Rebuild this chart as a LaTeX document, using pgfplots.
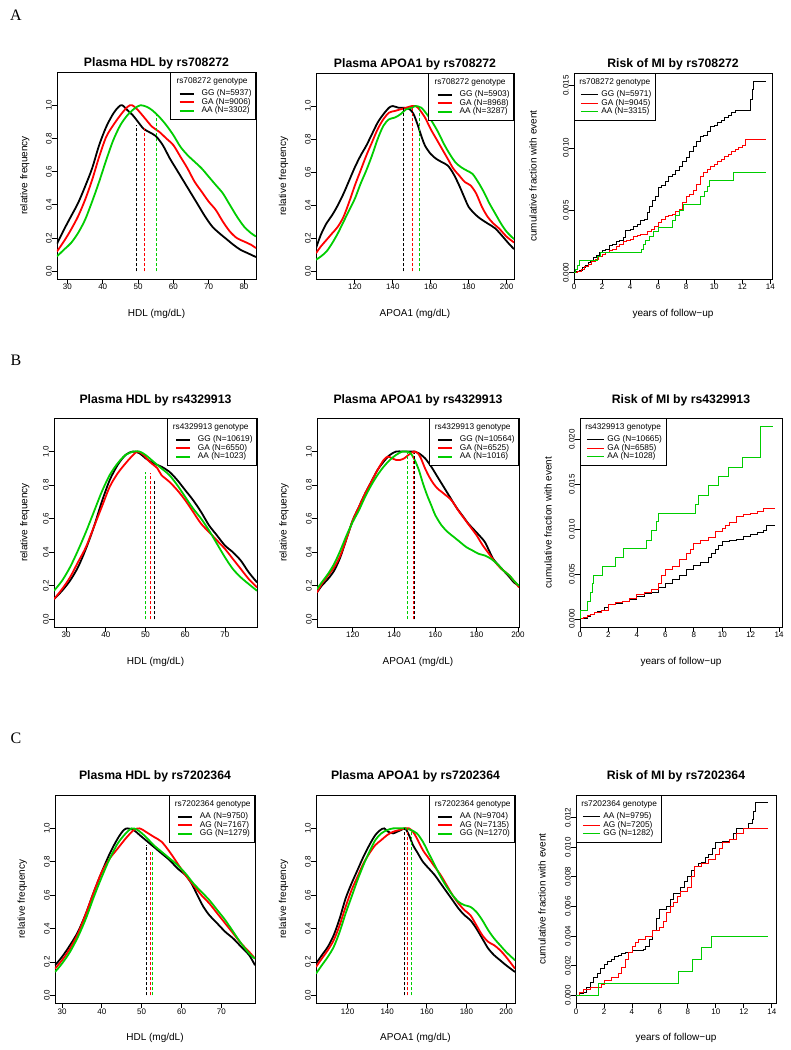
\documentclass[border=0pt]{standalone}
\usepackage{fontspec}
\setmainfont{Liberation Sans}
\newfontfamily\panelfont{Liberation Serif}
\usepackage{pgfplots}
\pgfplotsset{compat=1.18}

\definecolor{rgreen}{RGB}{0,205,0}

\pgfplotsset{
  rbase/.style={
    scale only axis, anchor=south west, clip=true,
    axis line style={line width=0.8pt},
    tick align=outside, xtick pos=left, ytick pos=left,
    major tick length=5pt,
    every tick/.style={black, line width=0.8pt},
    tick label style={font=\fontsize{8}{9}\selectfont},
    /pgf/number format/assume math mode=true,
    xticklabel style={anchor=north, inner sep=0pt, text height=5.8pt, text depth=0pt},
    yticklabel style={rotate=90, anchor=south, inner sep=0pt},
    scaled ticks=false,
    label style={font=\fontsize{10.4}{12}\selectfont},
    every axis x label/.style={at={(axis description cs:0.5,0)}, yshift=-37.5pt, anchor=base},
  },
  tstyle/.style={every axis title/.style={at={(axis description cs:0.5,1)}, yshift=#1, anchor=base,
      font=\bfseries\fontsize{12.25}{14}\selectfont}},
  ylab/.style={every axis y label/.style={at={(axis description cs:0,0.5)}, xshift=-#1, rotate=90, anchor=base}},
  dens/.style={rbase, ymin=-0.046, ymax=1.2, ytick={0,0.2,0.4,0.6,0.8,1},
    yticklabel style={/pgf/number format/fixed, /pgf/number format/fixed zerofill, /pgf/number format/precision=1},
    ylabel={relative frequency},
    legend cell align=left,
    legend style={at={(1,1)}, anchor=north east, draw=black, line width=0.8pt, fill=white,
      inner xsep=4pt, inner ysep=5.5pt, row sep=1pt, column sep=7pt,
      font=\fontsize{8.3}{9}\selectfont, nodes={inner sep=0pt, text height=6pt, text depth=1.5pt}},
    legend image code/.code={\path (0pt,0pt); \draw[##1] (4pt,0pt) -- (18pt,0pt);}},
  mi/.style={rbase, xmin=0, xtick={0,2,...,14}, xlabel={years of follow−up},
    yticklabel style={/pgf/number format/fixed, /pgf/number format/fixed zerofill, /pgf/number format/precision=3},
    ylabel={cumulative fraction with event},
    legend cell align=left,
    legend style={at={(0,1)}, anchor=north west, draw=black, line width=0.8pt, fill=white,
      inner xsep=4pt, inner ysep=5.5pt, row sep=1pt, column sep=3pt,
      font=\fontsize{8.3}{9}\selectfont, nodes={inner sep=0pt, text height=6pt, text depth=1.5pt}},
    legend image code/.code={\path (0pt,0pt); \draw[##1] (2pt,0pt) -- (19pt,0pt);}},
  dk/.style={black, line width=1.8pt, smooth},
  dr/.style={red, line width=1.8pt, smooth},
  dg/.style={rgreen, line width=1.8pt, smooth},
  sk/.style={black, line width=0.9pt, const plot mark left},
  sr/.style={red, line width=0.9pt, const plot mark left},
  sg/.style={rgreen, line width=0.9pt, const plot mark left},
  med/.style={line width=1pt, dash pattern=on 3pt off 2pt, forget plot},
}

\begin{document}
\begin{tikzpicture}
\useasboundingbox (0,0) rectangle (791pt,1050pt);

\node[anchor=base west, font=\panelfont\fontsize{16}{18}\selectfont] at (6.5pt,1029.3pt) {A};
\node[anchor=base west, font=\panelfont\fontsize{16}{18}\selectfont] at (7pt,684pt) {B};
\node[anchor=base west, font=\panelfont\fontsize{16}{18}\selectfont] at (7pt,306.7pt) {C};

% ---------------- row A ----------------
\begin{axis}[dens, tstyle=5.7pt, ylab=29.5pt, at={(57pt,771pt)}, width=199pt, height=207pt,
  xmin=27.06, xmax=83.4, xtick={30,40,...,80},
  title={Plasma HDL by rs708272}, xlabel={HDL (mg/dL)}]
\addlegendimage{empty legend}\addlegendentry[text depth=5pt]{\hspace*{-25pt}rs708272 genotype}
\addplot[dk] coordinates {(27.06,0.166)(29,0.25)(31,0.33)(33,0.41)(35,0.51)(37,0.62)(39,0.76)(41,0.87)(43,0.95)(44.5,0.99)(45.5,1.0)(47,0.97)(48.5,0.94)(50,0.9)(51.5,0.86)(53,0.84)(55,0.815)(57,0.76)(59,0.68)(61,0.61)(63,0.54)(65,0.47)(67,0.4)(69,0.33)(71,0.27)(73,0.23)(75,0.195)(77,0.16)(79,0.13)(81,0.11)(83.4,0.086)};
\addlegendentry{GG (N=5937)}
\addplot[dr] coordinates {(27.06,0.12)(29,0.18)(31,0.25)(33,0.33)(35,0.43)(37,0.55)(39,0.69)(41,0.81)(43,0.88)(45,0.94)(47,0.99)(48.3,1.0)(50,0.97)(52,0.92)(54,0.87)(56,0.84)(58,0.8)(60,0.76)(62,0.69)(64,0.62)(66,0.54)(68,0.48)(70,0.42)(72,0.37)(74,0.3)(76,0.24)(78,0.2)(80,0.18)(82,0.16)(83.4,0.14)};
\addlegendentry{GA (N=9006)}
\addplot[dg] coordinates {(27.06,0.09)(29,0.13)(31,0.17)(33,0.23)(35,0.31)(37,0.42)(39,0.54)(41,0.67)(43,0.79)(45,0.88)(47,0.94)(49,0.98)(50.7,1.0)(52.5,0.99)(54,0.97)(56,0.93)(58,0.88)(60,0.82)(62,0.75)(64,0.7)(66,0.66)(68,0.62)(70,0.57)(72,0.52)(74,0.47)(76,0.4)(78,0.33)(80,0.27)(82,0.23)(83.4,0.21)};
\addlegendentry{AA (N=3302)}
\addplot[med, black] coordinates {(49.6,0)(49.6,0.88)};
\addplot[med, red] coordinates {(51.9,0)(51.9,0.86)};
\addplot[med, rgreen] coordinates {(55.2,0)(55.2,0.94)};
\end{axis}

\begin{axis}[dens, tstyle=5.7pt, ylab=30pt, at={(316pt,771pt)}, width=198pt, height=206pt,
  xmin=99.5, xmax=203.9, xtick={120,140,...,200},
  title={Plasma APOA1 by rs708272}, xlabel={APOA1 (mg/dL)}]
\addlegendimage{empty legend}\addlegendentry[text depth=5pt]{\hspace*{-25pt}rs708272 genotype}
\addplot[dk] coordinates {(99.5,0.14)(102,0.22)(105,0.29)(108,0.34)(111,0.4)(114,0.47)(117,0.55)(120,0.63)(123,0.7)(126,0.76)(129,0.83)(132,0.9)(135,0.95)(138,0.99)(140,1.0)(143,0.99)(146,0.99)(149,0.98)(151,0.95)(153,0.89)(155,0.82)(157,0.76)(160,0.71)(163,0.68)(166,0.66)(169,0.64)(172,0.59)(175,0.52)(178,0.44)(180,0.39)(183,0.35)(186,0.32)(190,0.29)(194,0.26)(198,0.21)(201,0.17)(203.9,0.135)};
\addlegendentry{GG (N=5903)}
\addplot[dr] coordinates {(99.5,0.11)(102,0.15)(105,0.19)(108,0.23)(111,0.27)(114,0.33)(117,0.42)(120,0.52)(123,0.61)(126,0.7)(129,0.78)(132,0.86)(135,0.92)(138,0.96)(141,0.97)(144,0.98)(147,0.99)(150,1.0)(152,1.0)(154,0.98)(157,0.93)(160,0.86)(163,0.8)(166,0.74)(169,0.68)(172,0.62)(175,0.58)(178,0.54)(181,0.52)(184,0.47)(187,0.39)(190,0.33)(193,0.29)(196,0.26)(200,0.21)(203.9,0.175)};
\addlegendentry{GA (N=8968)}
\addplot[dg] coordinates {(99.5,0.07)(102,0.09)(105,0.12)(108,0.17)(111,0.23)(114,0.3)(117,0.37)(120,0.44)(123,0.53)(126,0.61)(129,0.7)(132,0.8)(135,0.88)(138,0.92)(141,0.93)(144,0.95)(147,0.98)(150,0.99)(152,1.0)(155,0.99)(158,0.95)(161,0.9)(164,0.84)(167,0.77)(170,0.71)(173,0.66)(176,0.63)(179,0.61)(182,0.59)(185,0.54)(188,0.48)(191,0.41)(194,0.35)(197,0.29)(200,0.24)(203.9,0.195)};
\addlegendentry{AA (N=3287)}
\addplot[med, black] coordinates {(145.8,0)(145.8,0.99)};
\addplot[med, red] coordinates {(150.2,0)(150.2,1.0)};
\addplot[med, rgreen] coordinates {(153.9,0)(153.9,0.99)};
\end{axis}

\begin{axis}[mi, tstyle=5.7pt, ylab=37.5pt, at={(574pt,771pt)}, width=198pt, height=206pt,
  xmax=14.12, ymin=-0.0005, ymax=0.016, ytick={0,0.005,0.01,0.015},
  title={Risk of MI by rs708272}]
\addlegendimage{empty legend}\addlegendentry[text depth=5pt]{\hspace*{-22pt}rs708272 genotype}
\addplot[sk] coordinates {(0,0)(0.2,0.0001)(0.4,0.0002)(0.6,0.0004)(0.8,0.0006)(1.0,0.0008)(1.2,0.001)(1.4,0.0012)(1.6,0.0014)(1.8,0.0016)(2.0,0.0018)(2.25,0.0019)(2.5,0.0022)(2.75,0.0023)(3.0,0.0025)(3.25,0.0026)(3.5,0.0028)(3.7,0.0034)(4.0,0.0035)(4.25,0.0037)(4.5,0.0039)(4.75,0.0042)(5.0,0.0043)(5.25,0.0048)(5.4,0.0053)(5.6,0.0058)(5.8,0.0061)(6.0,0.0068)(6.25,0.007)(6.5,0.0073)(6.75,0.0077)(7.0,0.0079)(7.25,0.0082)(7.5,0.0085)(7.75,0.0089)(8.0,0.0092)(8.25,0.0097)(8.5,0.0101)(8.75,0.0105)(9.0,0.0109)(9.25,0.011)(9.5,0.0113)(9.75,0.0117)(10.0,0.0118)(10.25,0.012)(10.5,0.0122)(10.75,0.0124)(11.0,0.0126)(11.25,0.0128)(11.5,0.013)(12.6,0.0139)(12.7,0.0147)(12.8,0.0153)(13.7,0.0153)};
\addlegendentry{GG (N=5971)}
\addplot[sr] coordinates {(0,0)(0.25,0.0001)(0.5,0.0003)(0.75,0.0005)(1.0,0.0007)(1.25,0.0009)(1.5,0.0011)(1.75,0.0013)(2.0,0.0015)(2.25,0.0016)(2.5,0.0018)(2.75,0.0019)(3.0,0.0021)(3.25,0.0023)(3.5,0.0025)(3.75,0.0026)(4.0,0.0027)(4.25,0.0029)(4.5,0.003)(4.75,0.0031)(5.0,0.0031)(5.25,0.0033)(5.5,0.0035)(5.75,0.0037)(6.0,0.004)(6.25,0.0043)(6.5,0.0045)(6.75,0.0046)(7.0,0.0047)(7.25,0.0049)(7.5,0.0051)(7.75,0.0056)(8.0,0.0061)(8.25,0.0063)(8.5,0.0066)(8.75,0.0071)(9.0,0.0077)(9.25,0.008)(9.5,0.0083)(9.75,0.0085)(10.0,0.0087)(10.25,0.0089)(10.5,0.0091)(10.75,0.0093)(11.0,0.0095)(11.25,0.0097)(11.5,0.0099)(11.75,0.01)(12.0,0.0102)(12.2,0.0107)(13.7,0.0107)};
\addlegendentry{GA (N=9045)}
\addplot[sg] coordinates {(0,0)(0.1,0.0003)(0.25,0.0006)(0.4,0.001)(1.5,0.001)(1.7,0.0013)(1.9,0.0016)(4.7,0.0016)(4.8,0.0019)(4.95,0.0023)(5.1,0.0026)(5.4,0.0029)(5.7,0.0033)(6.0,0.0036)(6.9,0.0036)(7.0,0.0042)(7.2,0.0046)(7.5,0.005)(7.8,0.0055)(8.9,0.0055)(9.05,0.0061)(9.3,0.0065)(9.5,0.0069)(9.65,0.0074)(11.3,0.0074)(11.35,0.008)(13.7,0.008)};
\addlegendentry{AA (N=3315)}
\end{axis}

% ---------------- row B ----------------
\begin{axis}[dens, tstyle=14.5pt, ylab=26.5pt, at={(54pt,423pt)}, width=203pt, height=209pt,
  xmin=26.97, xmax=78.08, xtick={30,40,...,70},
  title={Plasma HDL by rs4329913}, xlabel={HDL (mg/dL)}]
\addlegendimage{empty legend}\addlegendentry[text depth=5pt]{\hspace*{-25pt}rs4329913 genotype}
\addplot[dk] coordinates {(26.97,0.12)(29,0.17)(31,0.23)(33,0.31)(35,0.42)(37,0.55)(39,0.7)(41,0.83)(43,0.92)(45,0.98)(46.8,1.0)(48.5,0.99)(50,0.96)(52,0.93)(54,0.91)(56,0.88)(58,0.83)(60,0.77)(62,0.71)(64,0.64)(66,0.56)(68,0.5)(70,0.44)(72,0.4)(74,0.35)(76,0.28)(78.08,0.22)};
\addlegendentry{GG (N=10619)}
\addplot[dr] coordinates {(26.97,0.12)(29,0.18)(31,0.25)(33,0.34)(35,0.43)(37,0.55)(39,0.67)(41,0.79)(43,0.87)(45,0.93)(46.5,0.97)(48,1.0)(49.5,0.98)(51,0.94)(53,0.9)(54,0.86)(56,0.82)(58,0.77)(60,0.71)(62,0.64)(64,0.57)(66,0.52)(68,0.47)(70,0.42)(72,0.36)(74,0.3)(76,0.24)(78.08,0.19)};
\addlegendentry{GA (N=6550)}
\addplot[dg] coordinates {(26.97,0.17)(29,0.23)(31,0.31)(33,0.41)(35,0.52)(37,0.64)(39,0.76)(41,0.86)(43,0.93)(45,0.98)(47,1.0)(48.5,1.0)(50,0.98)(52,0.94)(54,0.9)(56,0.86)(58,0.8)(60,0.73)(62,0.66)(64,0.6)(66,0.53)(68,0.45)(70,0.37)(72,0.3)(74,0.25)(76,0.21)(78.08,0.17)};
\addlegendentry{AA (N=1023)}
\addplot[med, rgreen] coordinates {(50.1,0)(50.1,0.88)};
\addplot[med, red] coordinates {(51.3,0)(51.3,0.87)};
\addplot[med, black] coordinates {(52.3,0)(52.3,0.83)};
\end{axis}

\begin{axis}[dens, tstyle=14.5pt, ylab=30.5pt, at={(317pt,423pt)}, width=202pt, height=209pt,
  xmin=102.7, xmax=200.5, xtick={120,140,...,200},
  title={Plasma APOA1 by rs4329913}, xlabel={APOA1 (mg/dL)}]
\addlegendimage{empty legend}\addlegendentry[text depth=5pt]{\hspace*{-25pt}rs4329913 genotype}
\addplot[dk] coordinates {(102.7,0.16)(105,0.2)(108,0.24)(111,0.29)(114,0.37)(117,0.48)(120,0.59)(123,0.67)(126,0.75)(129,0.82)(132,0.89)(135,0.94)(138,0.98)(141,1.0)(144,1.0)(147,1.0)(150,1.0)(152,0.99)(155,0.96)(158,0.91)(161,0.85)(164,0.79)(167,0.73)(170,0.67)(173,0.62)(176,0.57)(179,0.53)(182,0.49)(184,0.46)(186,0.41)(188,0.36)(190,0.33)(193,0.29)(196,0.25)(198,0.22)(200.5,0.2)};
\addlegendentry{GG (N=10564)}
\addplot[dr] coordinates {(102.7,0.16)(105,0.21)(108,0.26)(111,0.31)(114,0.38)(117,0.48)(120,0.59)(123,0.67)(126,0.75)(129,0.82)(132,0.89)(135,0.95)(137,0.97)(139,0.96)(141,0.95)(143,0.95)(145,0.96)(147,0.98)(149.5,1.0)(151.5,0.99)(153,0.96)(155,0.9)(157,0.85)(159,0.81)(161,0.78)(163,0.76)(165,0.74)(167,0.72)(169,0.69)(171,0.65)(174,0.6)(177,0.55)(180,0.5)(183,0.44)(186,0.39)(189,0.34)(192,0.3)(195,0.27)(198,0.23)(200.5,0.19)};
\addlegendentry{GA (N=6525)}
\addplot[dg] coordinates {(102.7,0.18)(105,0.22)(108,0.27)(111,0.33)(114,0.41)(117,0.5)(120,0.58)(123,0.65)(126,0.73)(129,0.8)(132,0.86)(135,0.91)(138,0.95)(141,0.98)(144,1.0)(146,1.0)(148,0.99)(150,0.95)(152,0.89)(154,0.81)(156,0.74)(158,0.68)(160,0.62)(163,0.56)(166,0.52)(169,0.49)(172,0.46)(175,0.43)(178,0.41)(181,0.39)(184,0.38)(187,0.36)(190,0.33)(193,0.29)(196,0.26)(198,0.23)(200.5,0.2)};
\addlegendentry{AA (N=1016)}
\addplot[med, rgreen] coordinates {(146.5,0)(146.5,0.99)};
\addplot[med, red] coordinates {(149.6,0)(149.6,0.99)};
\addplot[med, black] coordinates {(150.1,0)(150.1,0.99)};
\end{axis}

\begin{axis}[mi, tstyle=14.5pt, ylab=28.5pt, at={(580pt,423pt)}, width=202pt, height=209pt,
  xmax=14.2, ymin=-0.0009, ymax=0.0224, ytick={0,0.005,0.01,0.015,0.02},
  title={Risk of MI by rs4329913}]
\addlegendimage{empty legend}\addlegendentry[text depth=5pt]{\hspace*{-22pt}rs4329913 genotype}
\addplot[sk] coordinates {(0,0)(0.25,0.0001)(0.5,0.0003)(0.75,0.0005)(1.0,0.0007)(1.25,0.0008)(1.5,0.0009)(1.75,0.0013)(2.0,0.0016)(2.5,0.0017)(3.0,0.0019)(3.5,0.0022)(4.0,0.0025)(4.5,0.0028)(5.0,0.003)(5.5,0.0035)(6.0,0.0039)(6.5,0.0044)(7.0,0.0049)(7.5,0.0055)(8.0,0.006)(8.5,0.0063)(9.0,0.0068)(9.25,0.0073)(9.5,0.0078)(9.75,0.0082)(10.0,0.0086)(10.5,0.0088)(11.0,0.0089)(11.5,0.0092)(12.0,0.0094)(12.5,0.0096)(12.9,0.0099)(13.1,0.0104)(13.7,0.0104)};
\addlegendentry{GG (N=10665)}
\addplot[sr] coordinates {(0,0)(0.25,0.0002)(0.5,0.0004)(0.75,0.0005)(1.0,0.0007)(1.5,0.0009)(2.0,0.0016)(2.5,0.0018)(3.0,0.002)(3.5,0.0023)(4.0,0.0027)(4.5,0.003)(5.0,0.0033)(5.5,0.004)(5.75,0.0048)(6.0,0.0055)(6.5,0.0059)(7.0,0.0066)(7.5,0.0073)(7.75,0.0078)(8.0,0.0084)(8.5,0.0088)(9.0,0.0091)(9.5,0.0097)(10.0,0.0101)(10.25,0.0104)(10.5,0.0108)(11.0,0.0114)(11.5,0.0116)(12.0,0.0118)(12.5,0.012)(12.9,0.0123)(13.7,0.0123)};
\addlegendentry{GA (N=6585)}
\addplot[sg] coordinates {(0,0)(0.02,0.001)(0.52,0.002)(0.7,0.0029)(0.87,0.0039)(0.96,0.0049)(1.55,0.0059)(2.46,0.0069)(3.07,0.0079)(4.67,0.0088)(5.04,0.0099)(5.37,0.0109)(5.49,0.0118)(8.11,0.0128)(8.35,0.0138)(9.0,0.0149)(9.7,0.0159)(10.46,0.0169)(11.42,0.018)(12.69,0.0215)(13.6,0.0215)};
\addlegendentry{AA (N=1028)}
\end{axis}

% ---------------- row C ----------------
\begin{axis}[dens, tstyle=15.5pt, ylab=30pt, at={(55pt,47pt)}, width=200pt, height=208pt,
  xmin=28.24, xmax=78.45, xtick={30,40,...,70},
  title={Plasma HDL by rs7202364}, xlabel={HDL (mg/dL)}]
\addlegendimage{empty legend}\addlegendentry[text depth=5pt]{\hspace*{-25pt}rs7202364 genotype}
\addplot[dk] coordinates {(28.24,0.18)(30,0.23)(32,0.3)(34,0.38)(36,0.49)(38,0.62)(40,0.74)(42,0.85)(44,0.94)(45.5,0.99)(46.5,1.0)(48,0.99)(49.5,0.96)(51,0.93)(53,0.89)(55,0.85)(57,0.81)(59,0.76)(61,0.72)(62.5,0.67)(64,0.6)(65.5,0.53)(67,0.48)(69,0.43)(71,0.38)(73,0.34)(75,0.29)(77,0.24)(78.45,0.18)};
\addlegendentry{AA (N=9750)}
\addplot[dr] coordinates {(28.24,0.16)(30,0.21)(32,0.28)(34,0.37)(36,0.49)(38,0.62)(40,0.74)(42,0.82)(44,0.88)(46,0.94)(48,0.99)(49.5,1.0)(51,0.98)(53,0.95)(55,0.92)(57,0.86)(59,0.79)(61,0.72)(63,0.66)(65,0.6)(67,0.55)(69,0.49)(71,0.43)(73,0.37)(75,0.31)(77,0.26)(78.45,0.22)};
\addlegendentry{AG (N=7167)}
\addplot[dg] coordinates {(28.24,0.14)(30,0.19)(32,0.26)(34,0.35)(36,0.46)(38,0.59)(40,0.71)(42,0.82)(44,0.91)(46,0.97)(47.5,1.0)(49,0.99)(51,0.95)(53,0.9)(55,0.86)(57,0.82)(59,0.78)(61,0.73)(63,0.67)(65,0.62)(67,0.57)(69,0.51)(71,0.45)(73,0.38)(75,0.31)(77,0.25)(78.45,0.22)};
\addlegendentry{GG (N=1279)}
\addplot[med, black] coordinates {(51.1,0)(51.1,0.9)};
\addplot[med, red] coordinates {(52.3,0)(52.3,0.86)};
\addplot[med, rgreen] coordinates {(52.8,0)(52.8,0.86)};
\end{axis}

\begin{axis}[dens, tstyle=15.5pt, ylab=30pt, at={(316pt,47pt)}, width=199pt, height=208pt,
  xmin=104.06, xmax=204.5, xtick={120,140,...,200},
  title={Plasma APOA1 by rs7202364}, xlabel={APOA1 (mg/dL)}]
\addlegendimage{empty legend}\addlegendentry[text depth=5pt]{\hspace*{-25pt}rs7202364 genotype}
\addplot[dk] coordinates {(104.06,0.19)(107,0.24)(110,0.29)(113,0.36)(116,0.46)(119,0.58)(122,0.67)(125,0.75)(128,0.83)(131,0.9)(134,0.96)(136.5,0.99)(138.5,1.0)(140.5,0.98)(143,0.97)(145,0.98)(147,0.99)(149,1.0)(151,0.96)(153,0.9)(155,0.86)(158,0.8)(161,0.76)(164,0.72)(167,0.67)(170,0.62)(173,0.57)(176,0.52)(179,0.48)(182,0.45)(185,0.4)(188,0.34)(191,0.28)(194,0.24)(197,0.21)(200,0.18)(204.5,0.14)};
\addlegendentry{AA (N=9704)}
\addplot[dr] coordinates {(104.06,0.17)(107,0.22)(110,0.27)(113,0.33)(116,0.42)(119,0.53)(122,0.63)(125,0.71)(128,0.79)(131,0.85)(134,0.9)(137,0.93)(140,0.96)(143,0.98)(146,0.99)(149,1.0)(151,1.0)(153,0.98)(155,0.94)(158,0.87)(161,0.82)(164,0.77)(167,0.72)(170,0.66)(173,0.6)(176,0.55)(179,0.51)(182,0.48)(185,0.42)(188,0.36)(191,0.32)(194,0.3)(197,0.27)(200,0.23)(204.5,0.16)};
\addlegendentry{AG (N=7135)}
\addplot[dg] coordinates {(104.06,0.13)(107,0.18)(110,0.23)(113,0.29)(116,0.38)(119,0.49)(122,0.59)(125,0.69)(128,0.78)(131,0.86)(134,0.93)(137,0.97)(140,0.99)(143,1.0)(146,1.0)(149,1.0)(152,0.99)(155,0.97)(158,0.92)(161,0.85)(164,0.78)(167,0.71)(170,0.65)(173,0.6)(176,0.56)(179,0.54)(182,0.53)(185,0.5)(188,0.45)(191,0.39)(194,0.34)(197,0.3)(200,0.26)(204.5,0.21)};
\addlegendentry{GG (N=1270)}
\addplot[med, black] coordinates {(148.6,0)(148.6,1.0)};
\addplot[med, red] coordinates {(150.3,0)(150.3,1.0)};
\addplot[med, rgreen] coordinates {(152.3,0)(152.3,0.98)};
\end{axis}

\begin{axis}[mi, tstyle=15.5pt, ylab=30.5pt, at={(576pt,47pt)}, width=200pt, height=208pt,
  xmax=14.3, ymin=-0.00052, ymax=0.01353, ytick={0,0.002,0.004,0.006,0.008,0.01,0.012},
  title={Risk of MI by rs7202364}]
\addlegendimage{empty legend}\addlegendentry[text depth=5pt]{\hspace*{-22pt}rs7202364 genotype}
\addplot[sk] coordinates {(0,0)(0.25,0.0001)(0.5,0.0002)(0.75,0.0005)(1.0,0.0009)(1.25,0.0012)(1.5,0.0015)(1.75,0.0018)(2.0,0.0021)(2.25,0.0023)(2.5,0.0024)(2.75,0.0026)(3.0,0.0027)(3.25,0.0028)(3.5,0.0029)(4.0,0.003)(4.8,0.0031)(5.0,0.0033)(5.25,0.0038)(5.5,0.0044)(5.75,0.0052)(6.0,0.0058)(6.5,0.006)(6.75,0.0065)(7.0,0.0069)(7.5,0.0073)(7.75,0.0077)(8.0,0.008)(8.25,0.0084)(8.5,0.0087)(8.75,0.0089)(9.0,0.009)(9.25,0.0093)(9.5,0.0095)(9.75,0.0099)(10.0,0.0103)(10.5,0.0104)(11.0,0.0105)(11.25,0.0109)(11.5,0.0113)(12.0,0.0113)(12.3,0.0116)(12.6,0.0119)(12.7,0.0124)(12.85,0.013)(13.7,0.013)};
\addlegendentry{AA (N=9795)}
\addplot[sr] coordinates {(0,0)(0.25,0.0002)(0.5,0.0004)(1.0,0.0005)(1.5,0.0005)(1.8,0.0007)(2.0,0.001)(2.5,0.0012)(3.0,0.0015)(3.25,0.0019)(3.5,0.0024)(3.75,0.0029)(4.0,0.0033)(4.25,0.0036)(4.5,0.0038)(5.0,0.004)(5.5,0.0044)(6.0,0.0046)(6.25,0.005)(6.5,0.0056)(6.75,0.006)(7.0,0.0063)(7.25,0.0067)(7.5,0.007)(8.0,0.0073)(8.25,0.008)(8.5,0.0087)(9.0,0.0089)(9.5,0.0092)(10.0,0.0095)(10.25,0.0099)(10.5,0.0103)(11.0,0.0105)(11.5,0.0109)(12.0,0.0113)(13.7,0.0113)};
\addlegendentry{AG (N=7205)}
\addplot[sg] coordinates {(0,0)(1.6,0.0008)(7.3,0.0016)(8.3,0.0024)(9.0,0.0032)(9.7,0.004)(13.7,0.004)};
\addlegendentry{GG (N=1282)}
\end{axis}
\end{tikzpicture}
\end{document}
